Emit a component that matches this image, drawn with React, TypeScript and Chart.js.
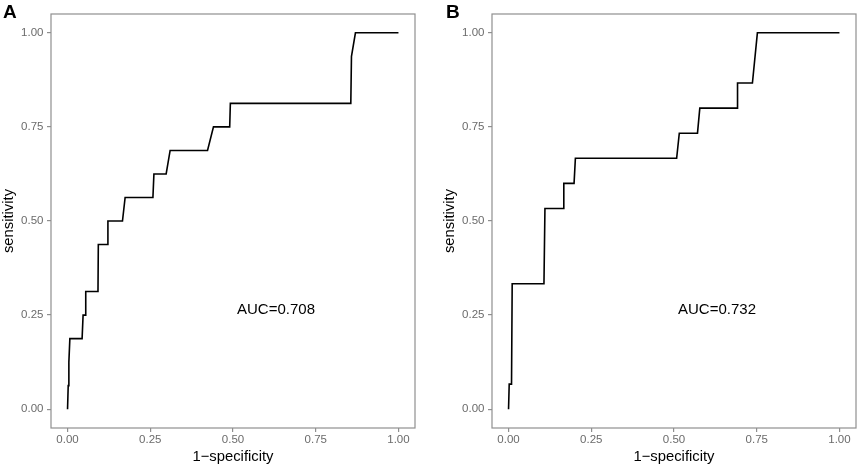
import { Chart, registerables } from 'chart.js';
import React, { useEffect, useRef } from 'react';

Chart.register(...registerables);

// ROC curve A (1-specificity, sensitivity)
const fprA = [0, 0.002, 0.004, 0.007, 0.044, 0.047, 0.053, 0.055, 0.092, 0.093, 0.121, 0.122, 0.166, 0.174, 0.258, 0.261, 0.298, 0.31, 0.423, 0.441, 0.49, 0.492, 0.856, 0.858, 0.87, 1];
const tprA = [0, 0.0625, 0.125, 0.1875, 0.1875, 0.25, 0.25, 0.3125, 0.3125, 0.4375, 0.4375, 0.5, 0.5, 0.5625, 0.5625, 0.625, 0.625, 0.6875, 0.6875, 0.75, 0.75, 0.8125, 0.8125, 0.9375, 1, 1];

// ROC curve B
const fprB = [0, 0.002, 0.009, 0.011, 0.107, 0.11, 0.166, 0.167, 0.198, 0.202, 0.508, 0.516, 0.571, 0.578, 0.691, 0.692, 0.737, 0.752, 1];
const tprB = [0, 0.0667, 0.0667, 0.3333, 0.3333, 0.5333, 0.5333, 0.6, 0.6, 0.6667, 0.6667, 0.7333, 0.7333, 0.8, 0.8, 0.8667, 0.8667, 1, 1];

const tickValues = [0, 0.25, 0.5, 0.75, 1];
const aucA = 'AUC=0.708';
const aucB = 'AUC=0.732';
const aucPos = { x: 0.63, y: 0.263 };

const FONT = '"Liberation Sans", Arial, Helvetica, sans-serif';
const GREY = '#8f8f8f';

interface PanelProps {
  fpr: number[];
  tpr: number[];
  auc: string;
  label: string;
  left: number;
  width: number;
  rightPad: number;
}

function RocPanel({ fpr, tpr, auc, label, left, width, rightPad }: PanelProps) {
  const canvasRef = useRef<HTMLCanvasElement>(null);

  useEffect(() => {
    if (!canvasRef.current) return;

    const points = fpr.map((x, i) => ({ x, y: tpr[i] }));

    const framePlugin = {
      id: 'frame',
      beforeDatasetsDraw(chart: Chart) {
        const { ctx, chartArea } = chart;
        ctx.save();
        ctx.strokeStyle = GREY;
        ctx.lineWidth = 1.2;
        ctx.strokeRect(chartArea.left, chartArea.top, chartArea.right - chartArea.left, chartArea.bottom - chartArea.top);
        ctx.restore();
      },
    };

    const aucPlugin = {
      id: 'aucText',
      afterDatasetsDraw(chart: Chart) {
        const { ctx, scales } = chart;
        ctx.save();
        ctx.font = `15px ${FONT}`;
        ctx.fillStyle = '#000';
        ctx.textAlign = 'center';
        ctx.textBaseline = 'middle';
        ctx.fillText(auc, scales.x.getPixelForValue(aucPos.x), scales.y.getPixelForValue(aucPos.y));
        ctx.restore();
      },
    };

    const setTicks = (scale: any) => {
      scale.ticks = tickValues.map((value) => ({ value }));
    };

    const chart = new Chart(canvasRef.current, {
      type: 'scatter',
      data: {
        datasets: [
          {
            data: points,
            showLine: true,
            borderColor: '#000',
            borderWidth: 1.6,
            pointRadius: 0,
            fill: false,
          },
        ],
      },
      options: {
        animation: false,
        responsive: true,
        maintainAspectRatio: false,
        layout: { padding: { top: 14, right: rightPad, bottom: 0, left: 0 } },
        plugins: {
          legend: { display: false },
          tooltip: { enabled: false },
        },
        scales: {
          x: {
            type: 'linear',
            min: -0.05,
            max: 1.05,
            afterBuildTicks: setTicks,
            afterFit: (scale: any) => {
              scale.height = 39;
            },
            border: { display: false },
            grid: { drawOnChartArea: false, drawTicks: true, tickLength: 4, color: GREY, lineWidth: 1.2 },
            ticks: {
              padding: 1,
              color: '#6b6b6b',
              font: { family: FONT, size: 11.5 },
              maxRotation: 0,
              callback: (v: any) => Number(v).toFixed(2),
            },
            title: {
              display: true,
              text: '1−specificity',
              color: '#000',
              font: { family: FONT, size: 14.8 },
              padding: { top: 0, bottom: 1 },
            },
          },
          y: {
            type: 'linear',
            min: -0.05,
            max: 1.05,
            afterBuildTicks: setTicks,
            afterFit: (scale: any) => {
              scale.width = 51;
            },
            border: { display: false },
            grid: { drawOnChartArea: false, drawTicks: true, tickLength: 4, color: GREY, lineWidth: 1.2 },
            ticks: {
              padding: 3.5,
              color: '#6b6b6b',
              font: { family: FONT, size: 11.5 },
              callback: (v: any) => Number(v).toFixed(2),
            },
            title: {
              display: true,
              text: 'sensitivity',
              color: '#000',
              font: { family: FONT, size: 14.8 },
              padding: 0,
            },
          },
        },
      },
      plugins: [framePlugin, aucPlugin],
    });

    return () => {
      chart.destroy();
    };
  }, [fpr, tpr, auc, rightPad]);

  return (
    <div style={{ position: 'absolute', left, top: 0, width, height: 467 }}>
      <canvas ref={canvasRef} />
      <div
        style={{
          position: 'absolute',
          left: label === 'A' ? 3 : 5,
          top: 2,
          fontFamily: FONT,
          fontWeight: 'bold',
          fontSize: 19,
          lineHeight: '19px',
          color: '#000',
        }}
      >
        {label}
      </div>
    </div>
  );
}

export default function App() {
  return (
    <div style={{ position: 'fixed', left: 0, top: 0, width: 858, height: 467, background: '#fff' }}>
      <RocPanel fpr={fprA} tpr={tprA} auc={aucA} label="A" left={0} width={429} rightPad={14} />
      <RocPanel fpr={fprB} tpr={tprB} auc={aucB} label="B" left={441} width={417} rightPad={2} />
    </div>
  );
}
